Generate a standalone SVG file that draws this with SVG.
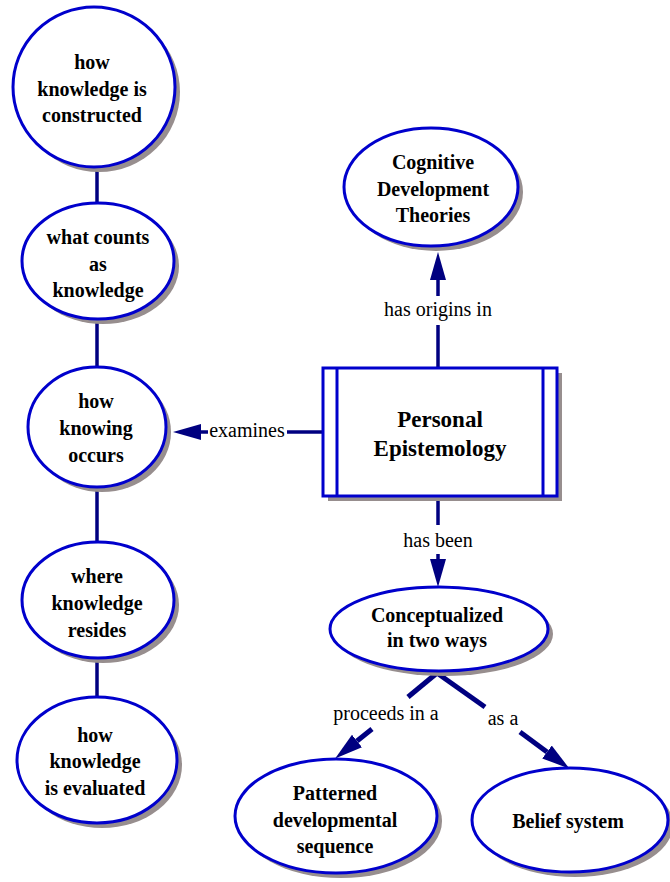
<svg xmlns="http://www.w3.org/2000/svg" width="670" height="882" viewBox="0 0 670 882">
<style>
.sh{fill:#978e8e;stroke:none}
.nd{fill:#ffffff;stroke:#0000cc;stroke-width:3}
.t{font-family:"Liberation Serif","Times New Roman",serif;font-weight:bold;font-size:20px;text-anchor:middle;fill:#000}
.big{font-size:23px}
.l{font-family:"Liberation Serif","Times New Roman",serif;font-size:20px;text-anchor:middle;fill:#000}
.c{fill:none;stroke:#000080;stroke-width:3.5}
.cw{fill:none;stroke:#000080;stroke-width:5}
</style>
<defs>
<marker id="ah" markerUnits="userSpaceOnUse" markerWidth="30" markerHeight="18" refX="0" refY="8" orient="auto" viewBox="0 0 30 18">
<path d="M0,0 L28,8 L0,16 z" fill="#000080"/>
</marker>
</defs>
<rect width="670" height="882" fill="#ffffff"/>
<g id="connectors">
<line class="c" x1="97" y1="167" x2="97" y2="203"/>
<line class="c" x1="97" y1="320" x2="97" y2="367"/>
<line class="c" x1="97" y1="486" x2="97" y2="542"/>
<line class="c" x1="97" y1="658" x2="97" y2="697"/>
<line class="c" x1="438" y1="368" x2="438" y2="325"/>
<line class="c" x1="438" y1="296" x2="438" y2="280" marker-end="url(#ah)"/>
<text class="l" x="438" y="316">has origins in</text>
<line class="c" x1="323" y1="432" x2="287" y2="432"/>
<line class="c" x1="208" y1="432" x2="201" y2="432" marker-end="url(#ah)"/>
<text class="l" x="247" y="437">examines</text>
<line class="c" x1="438" y1="496" x2="438" y2="525"/>
<line class="c" x1="438" y1="554" x2="438" y2="559" marker-end="url(#ah)"/>
<text class="l" x="438" y="547">has been</text>
<line class="cw" x1="437" y1="673" x2="408" y2="697"/>
<line class="cw" x1="372" y1="729" x2="357" y2="741" marker-end="url(#ah)"/>
<text class="l" x="386" y="720">proceeds in a</text>
<line class="cw" x1="437" y1="673" x2="485" y2="707"/>
<line class="cw" x1="520" y1="732" x2="547" y2="752" marker-end="url(#ah)"/>
<text class="l" x="503" y="725">as a</text>
</g>
<g id="n1">
<ellipse class="sh" cx="99" cy="92" rx="81" ry="80"/>
<ellipse class="nd" cx="94" cy="87" rx="81" ry="80"/>
<text class="t" x="92" y="69">how</text>
<text class="t" x="92" y="96">knowledge is</text>
<text class="t" x="92" y="122">constructed</text>
</g>
<g id="n2">
<ellipse class="sh" cx="103" cy="266" rx="76" ry="58"/>
<ellipse class="nd" cx="98" cy="261" rx="76" ry="58"/>
<text class="t" x="98" y="244">what counts</text>
<text class="t" x="98" y="271">as</text>
<text class="t" x="98" y="297">knowledge</text>
</g>
<g id="n3">
<ellipse class="sh" cx="102" cy="432" rx="69" ry="60"/>
<ellipse class="nd" cx="97" cy="427" rx="69" ry="60"/>
<text class="t" x="96" y="408">how</text>
<text class="t" x="96" y="435">knowing</text>
<text class="t" x="96" y="462">occurs</text>
</g>
<g id="n4">
<ellipse class="sh" cx="103" cy="605" rx="76" ry="58"/>
<ellipse class="nd" cx="98" cy="600" rx="76" ry="58"/>
<text class="t" x="97" y="583">where</text>
<text class="t" x="97" y="610">knowledge</text>
<text class="t" x="97" y="637">resides</text>
</g>
<g id="n5">
<ellipse class="sh" cx="102" cy="765" rx="80" ry="63"/>
<ellipse class="nd" cx="97" cy="760" rx="80" ry="63"/>
<text class="t" x="95" y="742">how</text>
<text class="t" x="95" y="768">knowledge</text>
<text class="t" x="95" y="795">is evaluated</text>
</g>
<g id="n6">
<ellipse class="sh" cx="436" cy="192" rx="87" ry="59"/>
<ellipse class="nd" cx="431" cy="187" rx="87" ry="59"/>
<text class="t" x="433" y="169">Cognitive</text>
<text class="t" x="433" y="196">Development</text>
<text class="t" x="433" y="222">Theories</text>
</g>
<g id="n7">
<rect class="sh" x="328" y="373" width="234" height="128"/>
<rect class="nd" x="323" y="368" width="234" height="128"/>
<line x1="337" y1="368" x2="337" y2="496" stroke="#0000cc" stroke-width="3"/>
<line x1="543" y1="368" x2="543" y2="496" stroke="#0000cc" stroke-width="3"/>
<text class="t big" x="440" y="427">Personal</text>
<text class="t big" x="440" y="456">Epistemology</text>
</g>
<g id="n8">
<ellipse class="sh" cx="444" cy="634" rx="109" ry="42"/>
<ellipse class="nd" cx="439" cy="629" rx="109" ry="42"/>
<text class="t" x="437" y="622">Conceptualized</text>
<text class="t" x="437" y="647">in two ways</text>
</g>
<g id="n9">
<ellipse class="sh" cx="341" cy="821" rx="101" ry="57"/>
<ellipse class="nd" cx="336" cy="816" rx="101" ry="57"/>
<text class="t" x="335" y="800">Patterned</text>
<text class="t" x="335" y="827">developmental</text>
<text class="t" x="335" y="853">sequence</text>
</g>
<g id="n10">
<ellipse class="sh" cx="575" cy="825" rx="98" ry="52"/>
<ellipse class="nd" cx="570" cy="820" rx="98" ry="52"/>
<text class="t" x="568" y="828">Belief system</text>
</g>
</svg>
